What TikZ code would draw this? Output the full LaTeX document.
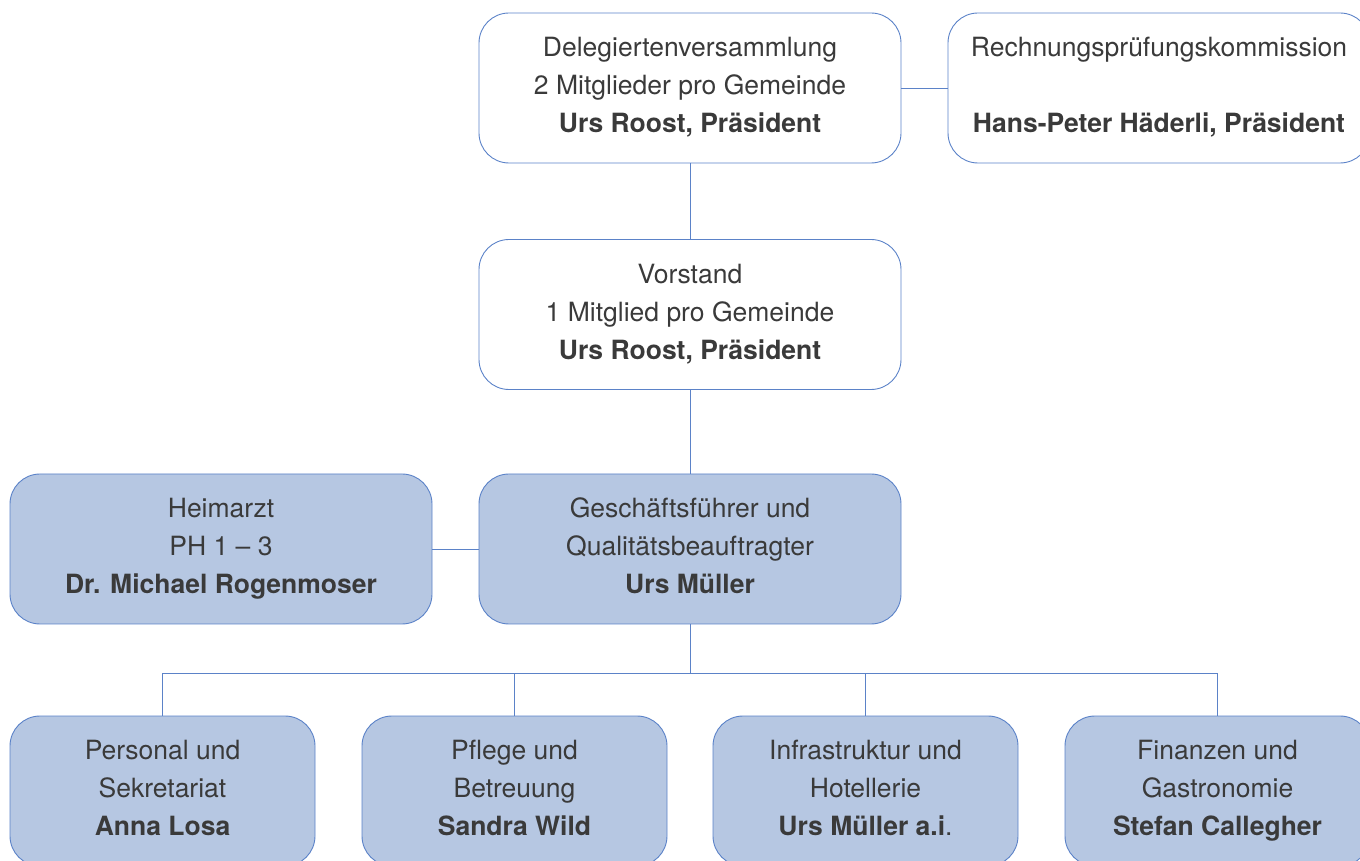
\documentclass[tikz,border=0pt]{standalone}
\usepackage{fontspec}
\setmainfont{TeX Gyre Heros}
\definecolor{boxline}{HTML}{5B82C8}
\definecolor{boxfill}{HTML}{B6C7E2}
\definecolor{txt}{HTML}{3A3A3A}
\tikzset{
  orgbox/.style={draw=boxline,line width=0.9pt,rounded corners=30pt,minimum width=422pt,minimum height=150pt,align=center,text=txt,font=\fontsize{26.5}{38}\selectfont,execute at begin node=\rule{0pt}{31pt},execute at end node=\rule[-6pt]{0pt}{6pt}},
  staffbox/.style={orgbox,fill=boxfill},
  unitbox/.style={staffbox,minimum width=305pt},
  link/.style={draw=boxline,line width=0.8pt}
}
\begin{document}
\begin{tikzpicture}[x=1pt,y=1pt]
\useasboundingbox (0,0) rectangle (1360,860);
\node[orgbox] (dv) at (690,772) {Delegiertenversammlung\\2 Mitglieder pro Gemeinde\\\textbf{Urs Roost, Präsident}};
\node[orgbox] (rpk) at (1159,772) {Rechnungsprüfungskommission\\\mbox{}\\\textbf{Hans-Peter Häderli, Präsident}};
\node[orgbox] (vs) at (690,545.5) {Vorstand\\1 Mitglied pro Gemeinde\\\textbf{Urs Roost, Präsident}};
\node[staffbox] (gf) at (690,311) {Geschäftsführer und\\Qualitätsbeauftragter\\\textbf{Urs Müller}};
\node[staffbox] (ha) at (221,311) {Heimarzt\\PH 1 -- 3\\\textbf{Dr. Michael Rogenmoser}};
\node[unitbox] (ps) at (162.5,69) {Personal und\\Sekretariat\\\textbf{Anna Losa}};
\node[unitbox] (pb) at (514.5,69) {Pflege und\\Betreuung\\\textbf{Sandra Wild}};
\node[unitbox] (ih) at (865.5,69) {Infrastruktur und\\Hotellerie\\\textbf{Urs Müller a.i}.};
\node[unitbox] (fg) at (1217.5,69) {Finanzen und\\Gastronomie\\\textbf{Stefan Callegher}};
\coordinate (bus) at (690,187);
% connectors
\draw[link] (dv) -- (rpk);
\draw[link] (dv) -- (vs);
\draw[link] (vs) -- (gf);
\draw[link] (ha) -- (gf);
\draw[link] (gf) -- (bus);
\foreach \u in {ps,pb,ih,fg} \draw[link] (bus) -| (\u.north);
\end{tikzpicture}
\end{document}
